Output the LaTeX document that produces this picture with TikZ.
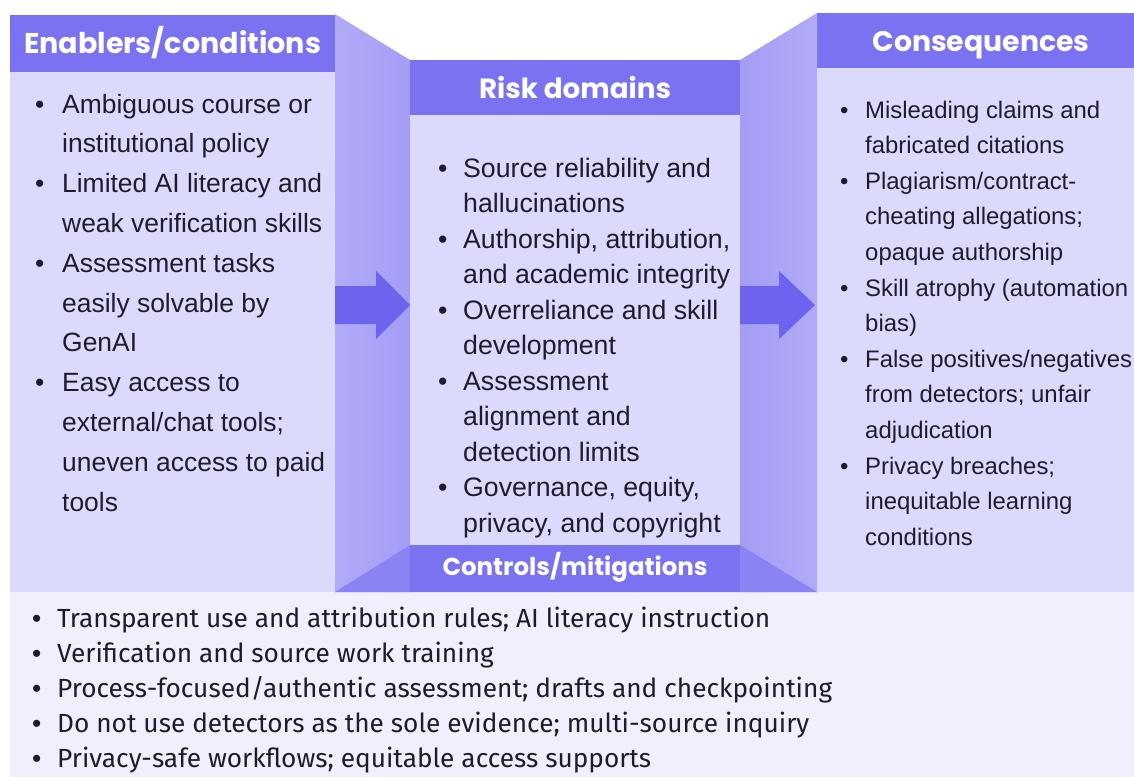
\documentclass[tikz,border=0pt]{standalone}
\usepackage{fontspec}
\setmainfont{Liberation Sans}
\newfontfamily\bodyfont{Liberation Sans}
\newfontfamily\headfont{Poppins}
\newfontfamily\listfont{Fira Sans}
\usetikzlibrary{calc}

\definecolor{hdr}{HTML}{7A72F1}
\definecolor{panel}{HTML}{DCDAFC}
\definecolor{wallL}{HTML}{B1ABF8}
\definecolor{wallR}{HTML}{A49DF5}
\definecolor{arrowc}{HTML}{6C63EF}
\definecolor{ctrlside}{HTML}{8A83F4}
\definecolor{lowpanel}{HTML}{F0EFFD}
\definecolor{ink}{HTML}{1E1C2B}

% font size that makes a sample string a given width
\newlength\fitw
\newcommand\fitsize[4]{%
  \settowidth\fitw{#1\fontsize{10pt}{12pt}\selectfont #2}%
  \pgfmathsetmacro#4{10*#3/\fitw}}

% bullet list helpers
\newlength\bulw
\newcommand\bl{\makebox[\bulw][l]{\bodyfont\textbullet}}
\newcommand\cl{\hspace*{\bulw}}

\tikzset{
  listtext/.style={anchor=base west, inner sep=0pt, text=ink},
  headtext/.style={anchor=base, inner sep=0pt, text=white},
}

\AtBeginDocument{%
\fitsize{\bodyfont}{Limited AI literacy and}{260}{\sizeL}%
\fitsize{\bodyfont}{and academic integrity}{267}{\sizeC}%
\fitsize{\bodyfont}{Skill atrophy (automation}{263}{\sizeR}%
\fitsize{\listfont}{Process-focused/authentic assessment; drafts and checkpointing}{775}{\sizeB}%
\fitsize{\headfont\bfseries}{Enablers/conditions}{297}{\sizeHa}%
\fitsize{\headfont\bfseries}{Risk domains}{192}{\sizeHb}%
\fitsize{\headfont\bfseries}{Consequences}{217}{\sizeHc}%
\fitsize{\headfont\bfseries}{Controls/mitigations}{265}{\sizeHd}%
}

\begin{document}
\begin{tikzpicture}[x=1pt, y=-1pt]
\useasboundingbox (0,0) rectangle (1134,779);

% lower band with the mitigations
\fill[lowpanel] (10,592) rectangle (1134,777);

% left and right panels
\fill[panel] (10,15) rectangle (335,592);
\fill[hdr] (10,15) rectangle (335,72);
\fill[panel] (817,13) rectangle (1134,592);
\fill[hdr] (817,13) rectangle (1134,68);

% side walls leading into the centre box
\shade[left color=wallL, right color=wallR] (335,14) -- (410,60) -- (410,592) -- (335,592) -- cycle;
\shade[left color=wallR, right color=wallL] (740,60) -- (817,13) -- (817,592) -- (740,592) -- cycle;

% centre box
\fill[panel] (410,60) rectangle (740,545);
\fill[hdr] (410,60) rectangle (740,115);

% floor band
\fill[ctrlside] (335,592) -- (410,545) -- (740,545) -- (817,592) -- cycle;
\fill[hdr] (410,545) rectangle (740,592);

% block arrows
\coordinate (la1) at (335,286); \coordinate (la2) at (376,286);
\coordinate (la3) at (376,271); \coordinate (lat) at (410,305);
\coordinate (la5) at (376,339); \coordinate (la6) at (376,324);
\coordinate (la7) at (335,324);
\fill[arrowc] (la1) -- (la2) -- (la3) -- (lat) -- (la5) -- (la6) -- (la7) -- cycle;
\coordinate (ra1) at (740,286); \coordinate (ra2) at (779,286);
\coordinate (ra3) at (779,271); \coordinate (rat) at (815,305);
\coordinate (ra5) at (779,339); \coordinate (ra6) at (779,324);
\coordinate (ra7) at (740,324);
\fill[arrowc] (ra1) -- (ra2) -- (ra3) -- (rat) -- (ra5) -- (ra6) -- (ra7) -- cycle;

% headings
\node[headtext] (h1) at (172.5,53) {\headfont\bfseries\fontsize{\sizeHa pt}{\sizeHa pt}\selectfont Enablers/conditions};
\node[headtext] (h2) at (575,98) {\headfont\bfseries\fontsize{\sizeHb pt}{\sizeHb pt}\selectfont Risk domains};
\node[headtext] (h3) at (981,51) {\headfont\bfseries\fontsize{\sizeHc pt}{\sizeHc pt}\selectfont Consequences};
\node[headtext] (h4) at (575,575) {\headfont\bfseries\fontsize{\sizeHd pt}{\sizeHd pt}\selectfont Controls/mitigations};

% lists
\node[listtext] (enablers) at (35,113) {\bodyfont\fontsize{\sizeL pt}{39.8pt}\selectfont\setlength\bulw{27pt}%
\begin{tabular}[t]{@{}l@{}}
\bl Ambiguous course or\\
\cl institutional policy\\
\bl Limited AI literacy and\\
\cl weak verification skills\\
\bl Assessment tasks\\
\cl easily solvable by\\
\cl GenAI\\
\bl Easy access to\\
\cl external/chat tools;\\
\cl uneven access to paid\\
\cl tools
\end{tabular}};

\node[listtext] (risks) at (438,177) {\bodyfont\fontsize{\sizeC pt}{35.5pt}\selectfont\setlength\bulw{25pt}%
\begin{tabular}[t]{@{}l@{}}
\bl Source reliability and\\
\cl hallucinations\\
\bl Authorship, attribution,\\
\cl and academic integrity\\
\bl Overreliance and skill\\
\cl development\\
\bl Assessment\\
\cl alignment and\\
\cl detection limits\\
\bl Governance, equity,\\
\cl privacy, and copyright
\end{tabular}};

\node[listtext] (conseq) at (840,118) {\bodyfont\fontsize{\sizeR pt}{35.6pt}\selectfont\setlength\bulw{25pt}%
\begin{tabular}[t]{@{}l@{}}
\bl Misleading claims and\\
\cl fabricated citations\\
\bl Plagiarism/contract-\\
\cl cheating allegations;\\
\cl opaque authorship\\
\bl Skill atrophy (automation\\
\cl bias)\\
\bl False positives/negatives\\
\cl from detectors; unfair\\
\cl adjudication\\
\bl Privacy breaches;\\
\cl inequitable learning\\
\cl conditions
\end{tabular}};

\node[listtext] (controls) at (32,627.5) {\listfont\fontsize{\sizeB pt}{34.9pt}\selectfont\setlength\bulw{25pt}%
\begin{tabular}[t]{@{}l@{}}
\bl Transparent use and attribution rules; AI literacy instruction\\
\bl Verification and source work training\\
\bl Process-focused/authentic assessment; drafts and checkpointing\\
\bl Do not use detectors as the sole evidence; multi-source inquiry\\
\bl Privacy-safe workflows; equitable access supports
\end{tabular}};
\end{tikzpicture}
\end{document}
